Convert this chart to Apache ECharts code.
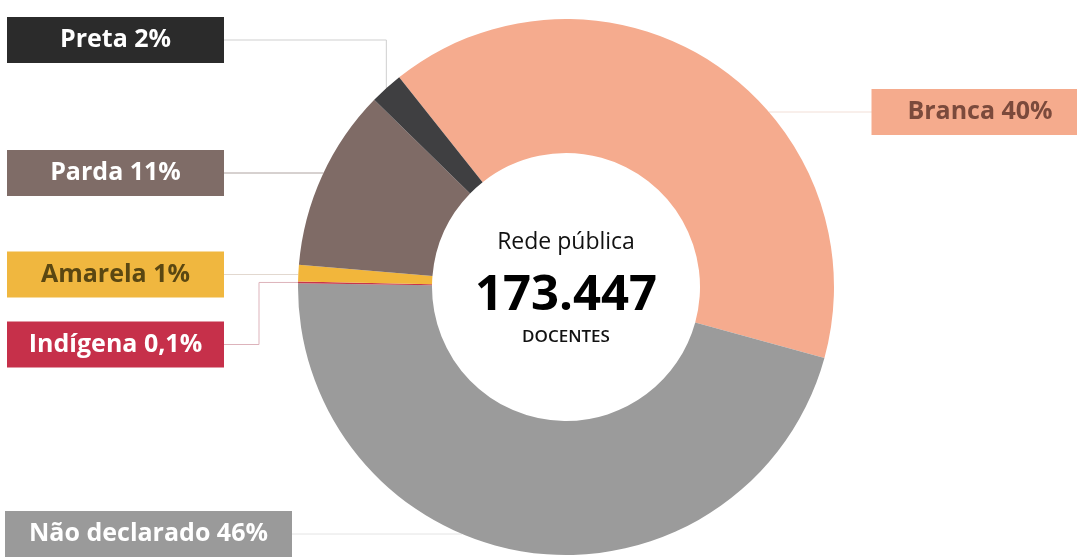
<!DOCTYPE html>
<html>
<head>
<meta charset="utf-8">
<title>Docentes da rede pública por cor/raça</title>
<script src="https://cdn.jsdelivr.net/npm/echarts@6/dist/echarts.min.js"></script>
<style>
  html, body { margin: 0; padding: 0; background: #ffffff; }
  #chart { width: 1077px; height: 557px; }
</style>
</head>
<body>
<div id="chart"></div>
<script>
// Categories in clockwise order, starting with Branca
const categories = ['Branca', 'Não declarado', 'Indígena', 'Amarela', 'Parda', 'Preta'];
const shares = [40, 46, 0.1, 1, 11, 2];           // percent of teachers
const totalLabel = '173.447';

// Styling per category
const sliceColors = ['#f5ab8e', '#9b9b9b', '#c8344b', '#f2b63b', '#7f6b66', '#3f3f41'];
const boxColors   = ['#f5ab8d', '#9a9a9a', '#c6304a', '#f0b73f', '#7f6c67', '#2b2b2b'];
const textColors  = ['#7b4a3c', '#ffffff', '#ffffff', '#5a4712', '#ffffff', '#ffffff'];
const lineColors  = ['#f2dfd7', '#e4e4e4', '#ddb3bb', '#e2d8cf', '#aea3a0', '#cfcfcf'];

// Donut geometry
const CX = 566, CY = 287, R_IN = 134, R_OUT = 268;

// Where each label box sits (centre) and how wide it is
const slots = [
  { x: 980,   y: 112,   w: 217, route: 'flat',  side: 1 },
  { x: 148.5, y: 534,   w: 287, route: 'flat',  side: -1 },
  { x: 115.5, y: 344.5, w: 217, route: 'step',  side: -1, bendX: 259 },
  { x: 115.5, y: 274.5, w: 217, route: 'flat',  side: -1 },
  { x: 115.5, y: 173,   w: 217, route: 'flat',  side: -1 },
  { x: 115.5, y: 40,    w: 217, route: 'elbow', side: -1 }
];

function fmtPct(v) {
  return String(v).replace('.', ',') + '%';
}

// Point on the outer rim at a given height, on the label's side
function rimAt(y, side) {
  const dy = y - CY;
  return [CX + side * Math.sqrt(R_OUT * R_OUT - dy * dy), y];
}

const seriesData = categories.map(function (name, i) {
  return {
    name: name,
    value: shares[i],
    itemStyle: { color: sliceColors[i] },
    label: {
      backgroundColor: boxColors[i],
      color: textColors[i],
      width: slots[i].w
    },
    labelLine: { lineStyle: { color: lineColors[i] } }
  };
});

const chart = echarts.init(document.getElementById('chart'), null, { renderer: 'canvas' });

chart.setOption({
  backgroundColor: '#ffffff',
  animation: false,
  series: [{
    type: 'pie',
    center: [CX, CY],
    radius: [R_IN, R_OUT],
    startAngle: 128.5,
    clockwise: true,
    avoidLabelOverlap: false,
    silent: true,
    emphasis: { disabled: true },
    itemStyle: { borderWidth: 0 },
    label: {
      show: true,
      position: 'outside',
      formatter: function (p) { return p.name + ' ' + fmtPct(p.value); },
      fontFamily: '"Open Sans", sans-serif',
      fontWeight: 700,
      fontSize: 25,
      lineHeight: 30,
      padding: [8, 0],
      align: 'center'
    },
    labelLine: {
      show: true,
      length: 10,
      length2: 10,
      lineStyle: { width: 1 }
    },
    labelLayout: function (params) {
      const s = slots[params.dataIndex];
      const edgeX = s.x + s.side * s.w / 2;   // box edge that faces the donut
      const start = params.labelLinePoints ? params.labelLinePoints[0] : [CX, CY];
      let pts;
      if (s.route === 'flat') {
        const rim = rimAt(s.y, s.side);
        pts = [rim, [(rim[0] + edgeX) / 2, s.y], [edgeX, s.y]];
      } else if (s.route === 'elbow') {
        pts = [start, [start[0], s.y], [edgeX, s.y]];
      } else {
        pts = [start, [s.bendX, start[1]], [s.bendX, s.y], [edgeX, s.y]];
      }
      return {
        x: s.x,
        y: s.y,
        align: 'center',
        verticalAlign: 'middle',
        labelLinePoints: pts
      };
    },
    data: seriesData
  }],
  graphic: [
    {
      type: 'text', x: CX, y: 242, silent: true,
      style: {
        text: 'Rede pública', align: 'center', verticalAlign: 'middle',
        fill: '#111111', font: '400 23px "Open Sans", sans-serif'
      }
    },
    {
      type: 'text', x: CX, y: 296, silent: true,
      style: {
        text: totalLabel, align: 'center', verticalAlign: 'middle',
        fill: '#000000', font: '700 49px "Open Sans", sans-serif'
      }
    },
    {
      type: 'text', x: CX, y: 337, silent: true,
      style: {
        text: 'DOCENTES', align: 'center', verticalAlign: 'middle',
        fill: '#111111', font: '600 17px "Open Sans", sans-serif'
      }
    }
  ]
});
</script>
</body>
</html>
